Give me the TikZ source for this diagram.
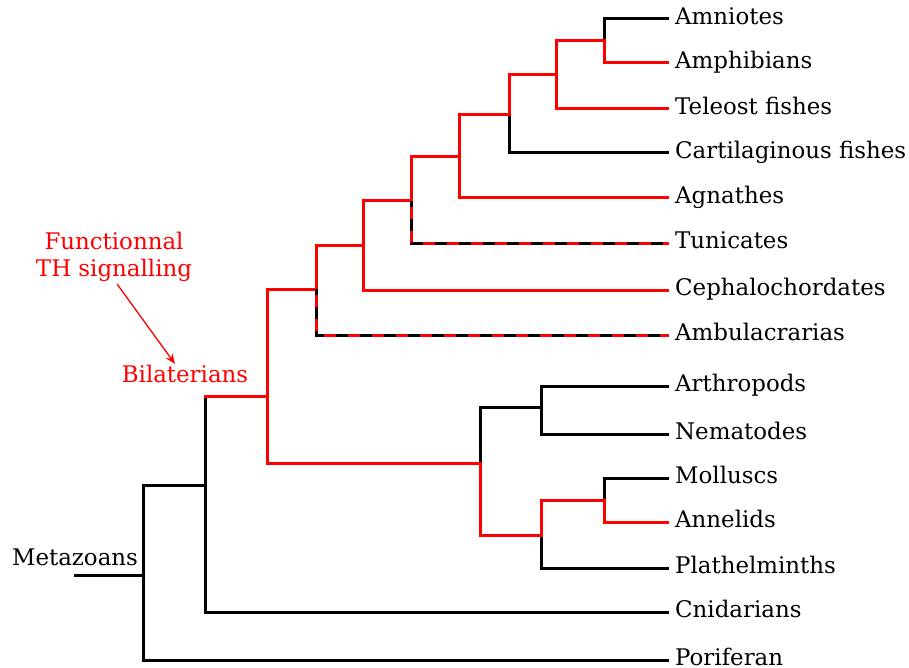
\documentclass[tikz,border=0pt]{standalone}
\usepackage{fontspec}
\setmainfont{DejaVu Serif}
\usetikzlibrary{arrows.meta}
\begin{document}
\begin{tikzpicture}[x=1pt,y=-1pt,
  every node/.style={font=\fontsize{22.9}{27}\selectfont},
  leaf/.style={anchor=west,inner xsep=8pt,inner ysep=0pt,text height=1.28em,text depth=0.2em},
  br/.style={line width=3pt,line cap=rect,black},
  rbr/.style={line width=3pt,line cap=rect,red},
  mixed/.style={line width=3pt,black,dash pattern=on 12pt off 12pt,dash phase=6pt},
  note/.style={red,inner sep=0pt}]
\useasboundingbox (0,0) rectangle (909,668);

% taxa
\node[leaf] (amn)  at (667,19)  {Amniotes};
\node[leaf] (amph) at (667,63)  {Amphibians};
\node[leaf] (tel)  at (667,109) {Teleost fishes};
\node[leaf] (cart) at (667,153) {Cartilaginous fishes};
\node[leaf] (agn)  at (667,198) {Agnathes};
\node[leaf] (tun)  at (667,243) {Tunicates};
\node[leaf] (ceph) at (667,290) {Cephalochordates};
\node[leaf] (amb)  at (667,335) {Ambulacrarias};
\node[leaf] (arth) at (667,386) {Arthropods};
\node[leaf] (nem)  at (667,434) {Nematodes};
\node[leaf] (mol)  at (667,478) {Molluscs};
\node[leaf] (ann)  at (667,522) {Annelids};
\node[leaf] (pla)  at (667,568) {Plathelminths};
\node[leaf] (cni)  at (667,612) {Cnidarians};
\node[leaf] (por)  at (667,660) {Poriferan};

% internal nodes
\coordinate (tetra) at (604,41);
\coordinate (ost)   at (556,75);
\coordinate (gnath) at (509,115);
\coordinate (vert)  at (459,157);
\coordinate (olf)   at (411,201);
\coordinate (chord) at (363,245);
\coordinate (deut)  at (316,289);
\coordinate (bila)  at (267,396);
\coordinate (prot)  at (480,463);
\coordinate (ecd)   at (541,407);
\coordinate (loph)  at (541,535);
\coordinate (molann) at (604,500);
\coordinate (eum)   at (205,485);
\coordinate (meta)  at (143,575);
\coordinate (root)  at (75,575);

% black branches
\draw[br] (tetra) |- (amn.west);
\draw[br] (gnath) |- (cart.west);
\draw[br] (prot) |- (ecd);
\draw[br] (ecd) |- (arth.west);
\draw[br] (ecd) |- (nem.west);
\draw[br] (loph) |- (pla.west);
\draw[br] (molann) |- (mol.west);
\draw[br] (eum) |- (cni.west);
\draw[br] (eum) -- (eum |- bila);
\draw[br] (meta) |- (eum);
\draw[br] (meta) |- (por.west);
\draw[br] (root) -- (meta);

% red branches
\draw[rbr] (tetra) |- (amph.west);
\draw[rbr] (ost) |- (tetra);
\draw[rbr] (ost) |- (tel.west);
\draw[rbr] (gnath) |- (ost);
\draw[rbr] (vert) |- (gnath);
\draw[rbr] (vert) |- (agn.west);
\draw[rbr] (olf) |- (vert);
\draw[rbr] (chord) |- (olf);
\draw[rbr] (chord) |- (ceph.west);
\draw[rbr] (deut) |- (chord);
\draw[rbr] (bila) |- (deut);
\draw[rbr] (bila) |- (prot);
\draw[rbr] (prot) |- (loph);
\draw[rbr] (loph) |- (molann);
\draw[rbr] (molann) |- (ann.west);
\draw[rbr] (eum |- bila) -- (bila);

% red and black dashed branches
\draw[rbr] (olf) |- (tun.west);
\draw[mixed] (olf) |- (tun.west);
\draw[rbr] (deut) |- (amb.west);
\draw[mixed] (deut) |- (amb.west);

% labels
\node[inner sep=0pt] (metalbl) at (75,557) {Metazoans};
\node[note,align=center] (fth) at (114,257) {Functionnal\\TH signalling};
\node[note] (bilbl) at (185,374) {Bilaterians};
\draw[red,line width=1.3pt,-{Stealth[length=10pt,width=8pt]}]
  ([xshift=3pt,yshift=-2pt]fth.south) -- ([xshift=-10pt,yshift=1pt]bilbl.north);
\end{tikzpicture}
\end{document}
